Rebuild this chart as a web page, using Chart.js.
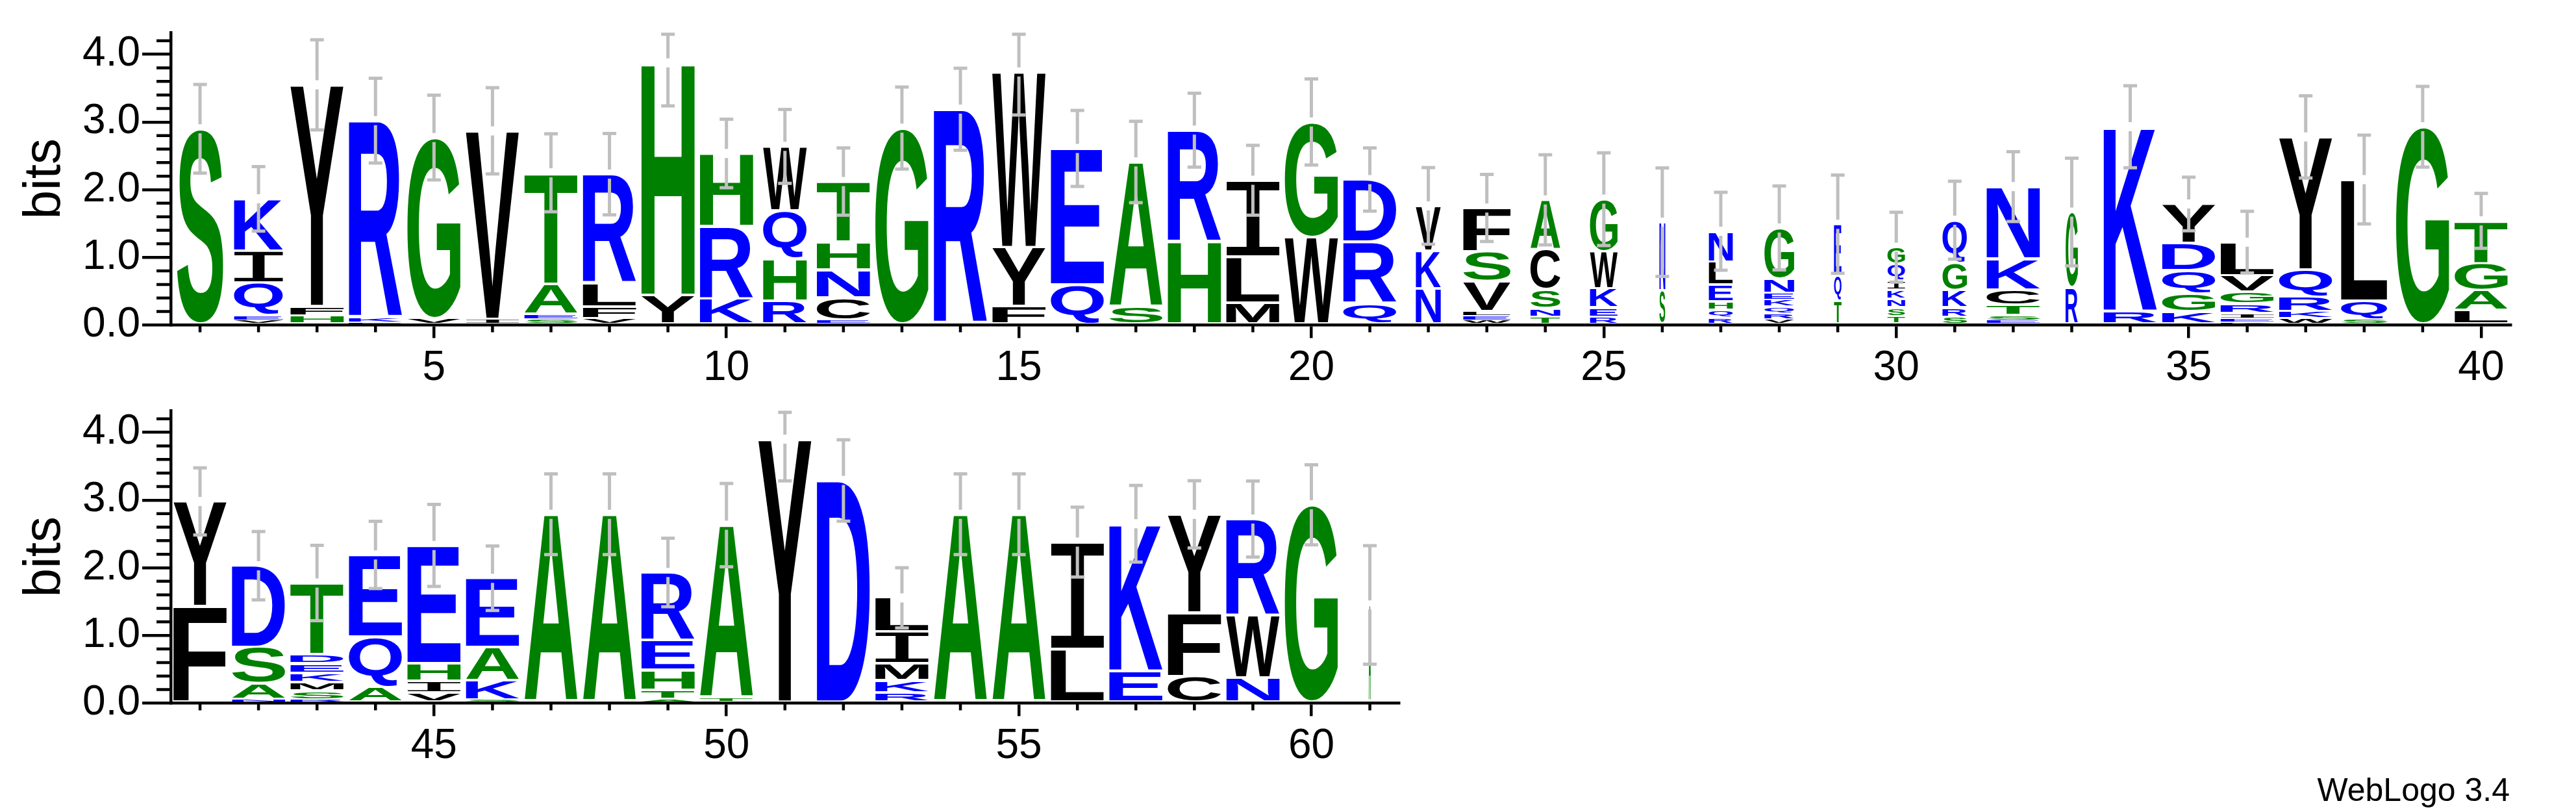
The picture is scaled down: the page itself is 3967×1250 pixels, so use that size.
<!DOCTYPE html>
<html>
<head>
<meta charset="utf-8">
<script src="https://cdn.jsdelivr.net/npm/chart.js@4.4.1/dist/chart.umd.min.js"></script>
<style>
html,body{margin:0;padding:0;background:#fff;}
body{width:3967px;height:1250px;position:relative;overflow:hidden;}
#c1{position:absolute;left:0;top:0;}
#c2{position:absolute;left:0;top:582px;}
#credit{position:absolute;right:102px;top:1191px;font:50px "Liberation Sans",Arial,sans-serif;line-height:50px;color:#000;white-space:nowrap;}
</style>
</head>
<body>
<canvas id="c1" width="3967" height="600"></canvas>
<canvas id="c2" width="2260" height="600"></canvas>
<div id="credit">WebLogo 3.4</div>
<script>
// ---------------- DATA ----------------
// Row 1: positions 1..40. Letters listed top -> bottom, heights in bits (same order).
const positions1 = [1,2,3,4,5,6,7,8,9,10,11,12,13,14,15,16,17,18,19,20,21,22,23,24,25,26,27,28,29,30,31,32,33,34,35,36,37,38,39,40];
const letters1 = ['S','KIQEV','YFH','RKE','GV','VI','TAES','RLFV','HY','HRK',
  'WQHR','THNCE','G','R','WYF','EQ','AS','RH','ILM','GW',
  'DRQ','VKN','FSVLEW','ACSNT','GWKER','NS','NLEHQR','GNEKQRV','EQT','GQIKNST',
  'QGKRS','NKCTSE','GR','KR','YDQGK','LVGRIEK','YQRKW','LQS','G','TGAL'];
const heights1 = [
  [2.90],[0.77,0.47,0.48,0.075,0.07],[3.27,0.14,0.14],[2.91,0.07,0.04],[2.67,0.10],
  [2.78,0.09],[1.64,0.45,0.075,0.085],[1.61,0.35,0.17,0.10],[3.43,0.445],[1.075,1.07,0.39],
  [0.95,0.71,0.62,0.36],[0.89,0.41,0.41,0.33,0.08],[2.91],[3.19],[2.59,0.87,0.28],
  [2.01,0.60],[2.14,0.27],[1.65,1.23],[1.13,0.68,0.33],[1.70,1.30],
  [0.92,0.91,0.32],[0.66,0.56,0.54],[0.64,0.44,0.44,0.07,0.07,0.07],[0.73,0.59,0.28,0.13,0.12],[0.77,0.55,0.28,0.14,0.12],
  [1.01,0.51],[0.45,0.34,0.25,0.12,0.115,0.11],[0.75,0.21,0.10,0.10,0.095,0.09,0.09],[0.76,0.37,0.36],[0.25,0.24,0.135,0.135,0.13,0.13,0.13],
  [0.63,0.40,0.26,0.14,0.12],[1.06,0.46,0.23,0.15,0.075,0.07],[1.11,0.56],[2.72,0.21],[0.58,0.40,0.34,0.27,0.20],
  [0.49,0.24,0.18,0.14,0.075,0.055,0.045],[1.96,0.40,0.22,0.10,0.10],[1.79,0.27,0.09],[2.93],[0.62,0.40,0.30,0.22]];
const widths1 = [0.87,0.92,1,1,1,1,1,1,1,1, 0.82,1,1,1,1,1,1,1,1,1,
  1,0.47,0.89,0.56,0.52,0.11,0.45,0.56,0.14,0.33, 0.46,1,0.23,1,1,1,1,0.87,1,1];
const errors1 = [0.68,0.50,0.69,0.65,0.65,0.66,0.60,0.625,0.66,0.53,
  0.57,0.52,0.63,0.63,0.66,0.585,0.625,0.57,0.54,0.66,
  0.49,0.59,0.52,0.69,0.71,0.825,0.60,0.645,0.75,0.54,
  0.60,0.54,0.82,0.63,0.42,0.48,0.63,0.68,0.62,0.43];

// Row 2: positions 41..61
const positions2 = [41,42,43,44,45,46,47,48,49,50,51,52,53,54,55,56,57,58,59,60,61];
const letters2 = ['YF','DSAN','TDEKMSR','EQA','EHIV','EAKS','A','A','REHTA','AT',
  'Y','D','LIMKR','A','A','IL','KE','YFC','RWN','G','A'];
const heights2 = [
  [1.55,1.43],[1.20,0.54,0.23,0.06],[1.05,0.14,0.135,0.135,0.13,0.13,0.055],[1.21,0.74,0.24],[1.74,0.26,0.17,0.16],
  [1.02,0.49,0.28,0.055],[2.79],[2.79],[1.00,0.44,0.29,0.14,0.06],[2.55,0.08],
  [3.90],[3.29],[0.50,0.47,0.25,0.175,0.16],[2.79],[2.79],
  [1.58,0.80],[2.17,0.48],[1.45,0.94,0.40],[1.42,0.92,0.38],[2.93],[1.45]];
const widths2 = [1,1,1,1,1,1,1,1,1,1,1,1,1,1,1,1,1,1,1,1,0.04];
const errors2 = [0.52,0.53,0.58,0.52,0.63,0.50,0.62,0.62,0.53,0.64,
  0.64,0.625,0.47,0.62,0.62,0.54,0.59,0.52,0.585,0.615,0.90];

// Axis ticks
const yTickValues = [0,1,2,3,4];
const yTickLabels = ['0.0','1.0','2.0','3.0','4.0'];
const yMinorTickValues = [0.2,0.4,0.6,0.8,1.2,1.4,1.6,1.8,2.2,2.4,2.6,2.8,3.2,3.4,3.6,3.8,4.2];
const yMax = 4.32;
const yTitle = 'bits';

// ---------------- RENDERING ----------------
const FONT = '"Liberation Sans", Arial, Helvetica, sans-serif';
Chart.defaults.font.family = FONT;
Chart.defaults.color = '#000';

const COLORS = {};
'RKDENQ'.split('').forEach(c => COLORS[c] = '#0000ff');
'SGHTAP'.split('').forEach(c => COLORS[c] = '#008000');
'YVMCLFIW'.split('').forEach(c => COLORS[c] = '#000000');

function glyphFont(ch) {
  return ch === 'I' ? '200px "DejaVu Sans Mono", monospace' : 'bold 200px ' + FONT;
}
const metricsCache = {};
function glyphMetrics(ctx, ch) {
  if (metricsCache[ch]) return metricsCache[ch];
  ctx.save();
  ctx.font = glyphFont(ch);
  ctx.textAlign = 'left';
  ctx.textBaseline = 'alphabetic';
  const m = ctx.measureText(ch);
  ctx.restore();
  const r = {l: m.actualBoundingBoxLeft, r: m.actualBoundingBoxRight, a: m.actualBoundingBoxAscent, d: m.actualBoundingBoxDescent};
  metricsCache[ch] = r;
  return r;
}
function drawGlyph(ctx, ch, x0, y0, w, h) {
  if (w <= 0 || h <= 0) return;
  const m = glyphMetrics(ctx, ch);
  ctx.save();
  ctx.font = glyphFont(ch);
  ctx.textAlign = 'left';
  ctx.textBaseline = 'alphabetic';
  ctx.fillStyle = COLORS[ch] || '#000';
  ctx.translate(x0, y0);
  ctx.scale(w / (m.l + m.r), h / (m.a + m.d));
  ctx.fillText(ch, m.l, m.a);
  ctx.restore();
}

function buildRow(canvasId, positions, letters, heights, widths, errors, padRight) {
  const levels = Math.max(...letters.map(s => s.length));
  const datasets = [];
  for (let k = 0; k < levels; k++) {
    datasets.push({
      data: positions.map((p, i) => {
        const hs = heights[i], n = hs.length;
        return {x: p, y: k < n ? hs[n - 1 - k] : null};
      }),
      letters: positions.map((p, i) => {
        const s = letters[i], n = s.length;
        return k < n ? s[n - 1 - k] : null;
      }),
      backgroundColor: 'rgba(0,0,0,0)',
      borderWidth: 0,
      barPercentage: 0.91,
      categoryPercentage: 1
    });
  }
  const totals = heights.map(hs => hs.reduce((a, b) => a + b, 0));

  const logoPlugin = {
    id: 'logo',
    afterDatasetsDraw(chart) {
      const ctx = chart.ctx;
      chart.data.datasets.forEach((ds, di) => {
        const meta = chart.getDatasetMeta(di);
        meta.data.forEach((el, i) => {
          const ch = ds.letters[i];
          if (!ch) return;
          const top = Math.min(el.y, el.base), bot = Math.max(el.y, el.base);
          const h = bot - top;
          const gap = Math.min(2, h * 0.15);
          const w = el.width * widths[i];
          drawGlyph(ctx, ch, el.x - w / 2, top + gap, w, h - 2 * gap);
        });
      });
      // error bars
      const xs = chart.scales.x, ys = chart.scales.y;
      ctx.save();
      ctx.strokeStyle = '#bfbfbf';
      ctx.lineWidth = 5;
      ctx.lineCap = 'butt';
      positions.forEach((p, i) => {
        const x = xs.getPixelForValue(p);
        const yc = ys.getPixelForValue(totals[i]);
        const yt = ys.getPixelForValue(Math.min(totals[i] + errors[i], yMax));
        const yb = ys.getPixelForValue(Math.max(totals[i] - errors[i], 0));
        ctx.beginPath();
        ctx.moveTo(x, yt); ctx.lineTo(x, yc - 7);
        ctx.moveTo(x, yc + 7); ctx.lineTo(x, yb);
        ctx.moveTo(x - 10.5, yt + 2.5); ctx.lineTo(x + 10.5, yt + 2.5);
        ctx.moveTo(x - 10.5, yb - 2.5); ctx.lineTo(x + 10.5, yb - 2.5);
        ctx.stroke();
      });
      ctx.restore();
    },
    afterDraw(chart) {
      const ctx = chart.ctx, xs = chart.scales.x, ys = chart.scales.y;
      ctx.save();
      ctx.strokeStyle = '#000';
      ctx.lineWidth = 4.5;
      ctx.lineCap = 'butt';
      ctx.beginPath();
      yMinorTickValues.forEach(v => {
        const y = ys.getPixelForValue(v);
        ctx.moveTo(ys.right - 22, y); ctx.lineTo(ys.right, y);
      });
      positions.forEach(p => {
        if (p % 5 === 0) return;
        const x = xs.getPixelForValue(p);
        ctx.moveTo(x, xs.top); ctx.lineTo(x, xs.top + 11);
      });
      ctx.stroke();
      ctx.restore();
    }
  };

  return new Chart(document.getElementById(canvasId), {
    type: 'bar',
    data: {datasets},
    plugins: [logoPlugin],
    options: {
      responsive: false,
      animation: false,
      devicePixelRatio: 1,
      events: [],
      layout: {padding: {left: 0, right: padRight, top: 50.3, bottom: 0}},
      plugins: {legend: {display: false}, tooltip: {enabled: false}, title: {display: false}},
      scales: {
        x: {
          type: 'linear',
          stacked: true,
          offset: false,
          min: positions[0] - 0.5,
          max: positions[positions.length - 1] + 0.5,
          afterBuildTicks: s => { s.ticks = positions.filter(p => p % 5 === 0).map(v => ({value: v})); },
          afterFit: s => { s.height = 99.6; },
          ticks: {autoSkip: false, maxRotation: 0, minRotation: 0, padding: 9, color: '#000',
            font: {size: 64, family: FONT}, callback: v => String(v)},
          grid: {drawOnChartArea: false, offset: false, tickLength: 20, tickWidth: 4.5, tickColor: '#000', lineWidth: 4.5, color: '#000'},
          border: {display: true, color: '#000', width: 4.5}
        },
        y: {
          type: 'linear',
          stacked: true,
          min: 0,
          max: yMax,
          afterBuildTicks: s => { s.ticks = yTickValues.map(v => ({value: v})); },
          afterFit: s => { s.width = 263; },
          ticks: {autoSkip: false, padding: 3, color: '#000', font: {size: 64, family: FONT},
            callback: (v, i) => yTickLabels[i]},
          grid: {drawOnChartArea: false, tickLength: 44, tickWidth: 4.5, tickColor: '#000', lineWidth: 4.5, color: '#000'},
          border: {display: true, color: '#000', width: 4.5},
          title: {display: true, text: yTitle, color: '#000', font: {size: 80, family: FONT}, padding: {top: 22, bottom: 0}}
        }
      }
    }
  });
}

buildRow('c1', positions1, letters1, heights1, widths1, errors1, 3967 - 3866);
buildRow('c2', positions2, letters2, heights2, widths2, errors2, 2260 - 2154.6);
</script>
</body>
</html>
